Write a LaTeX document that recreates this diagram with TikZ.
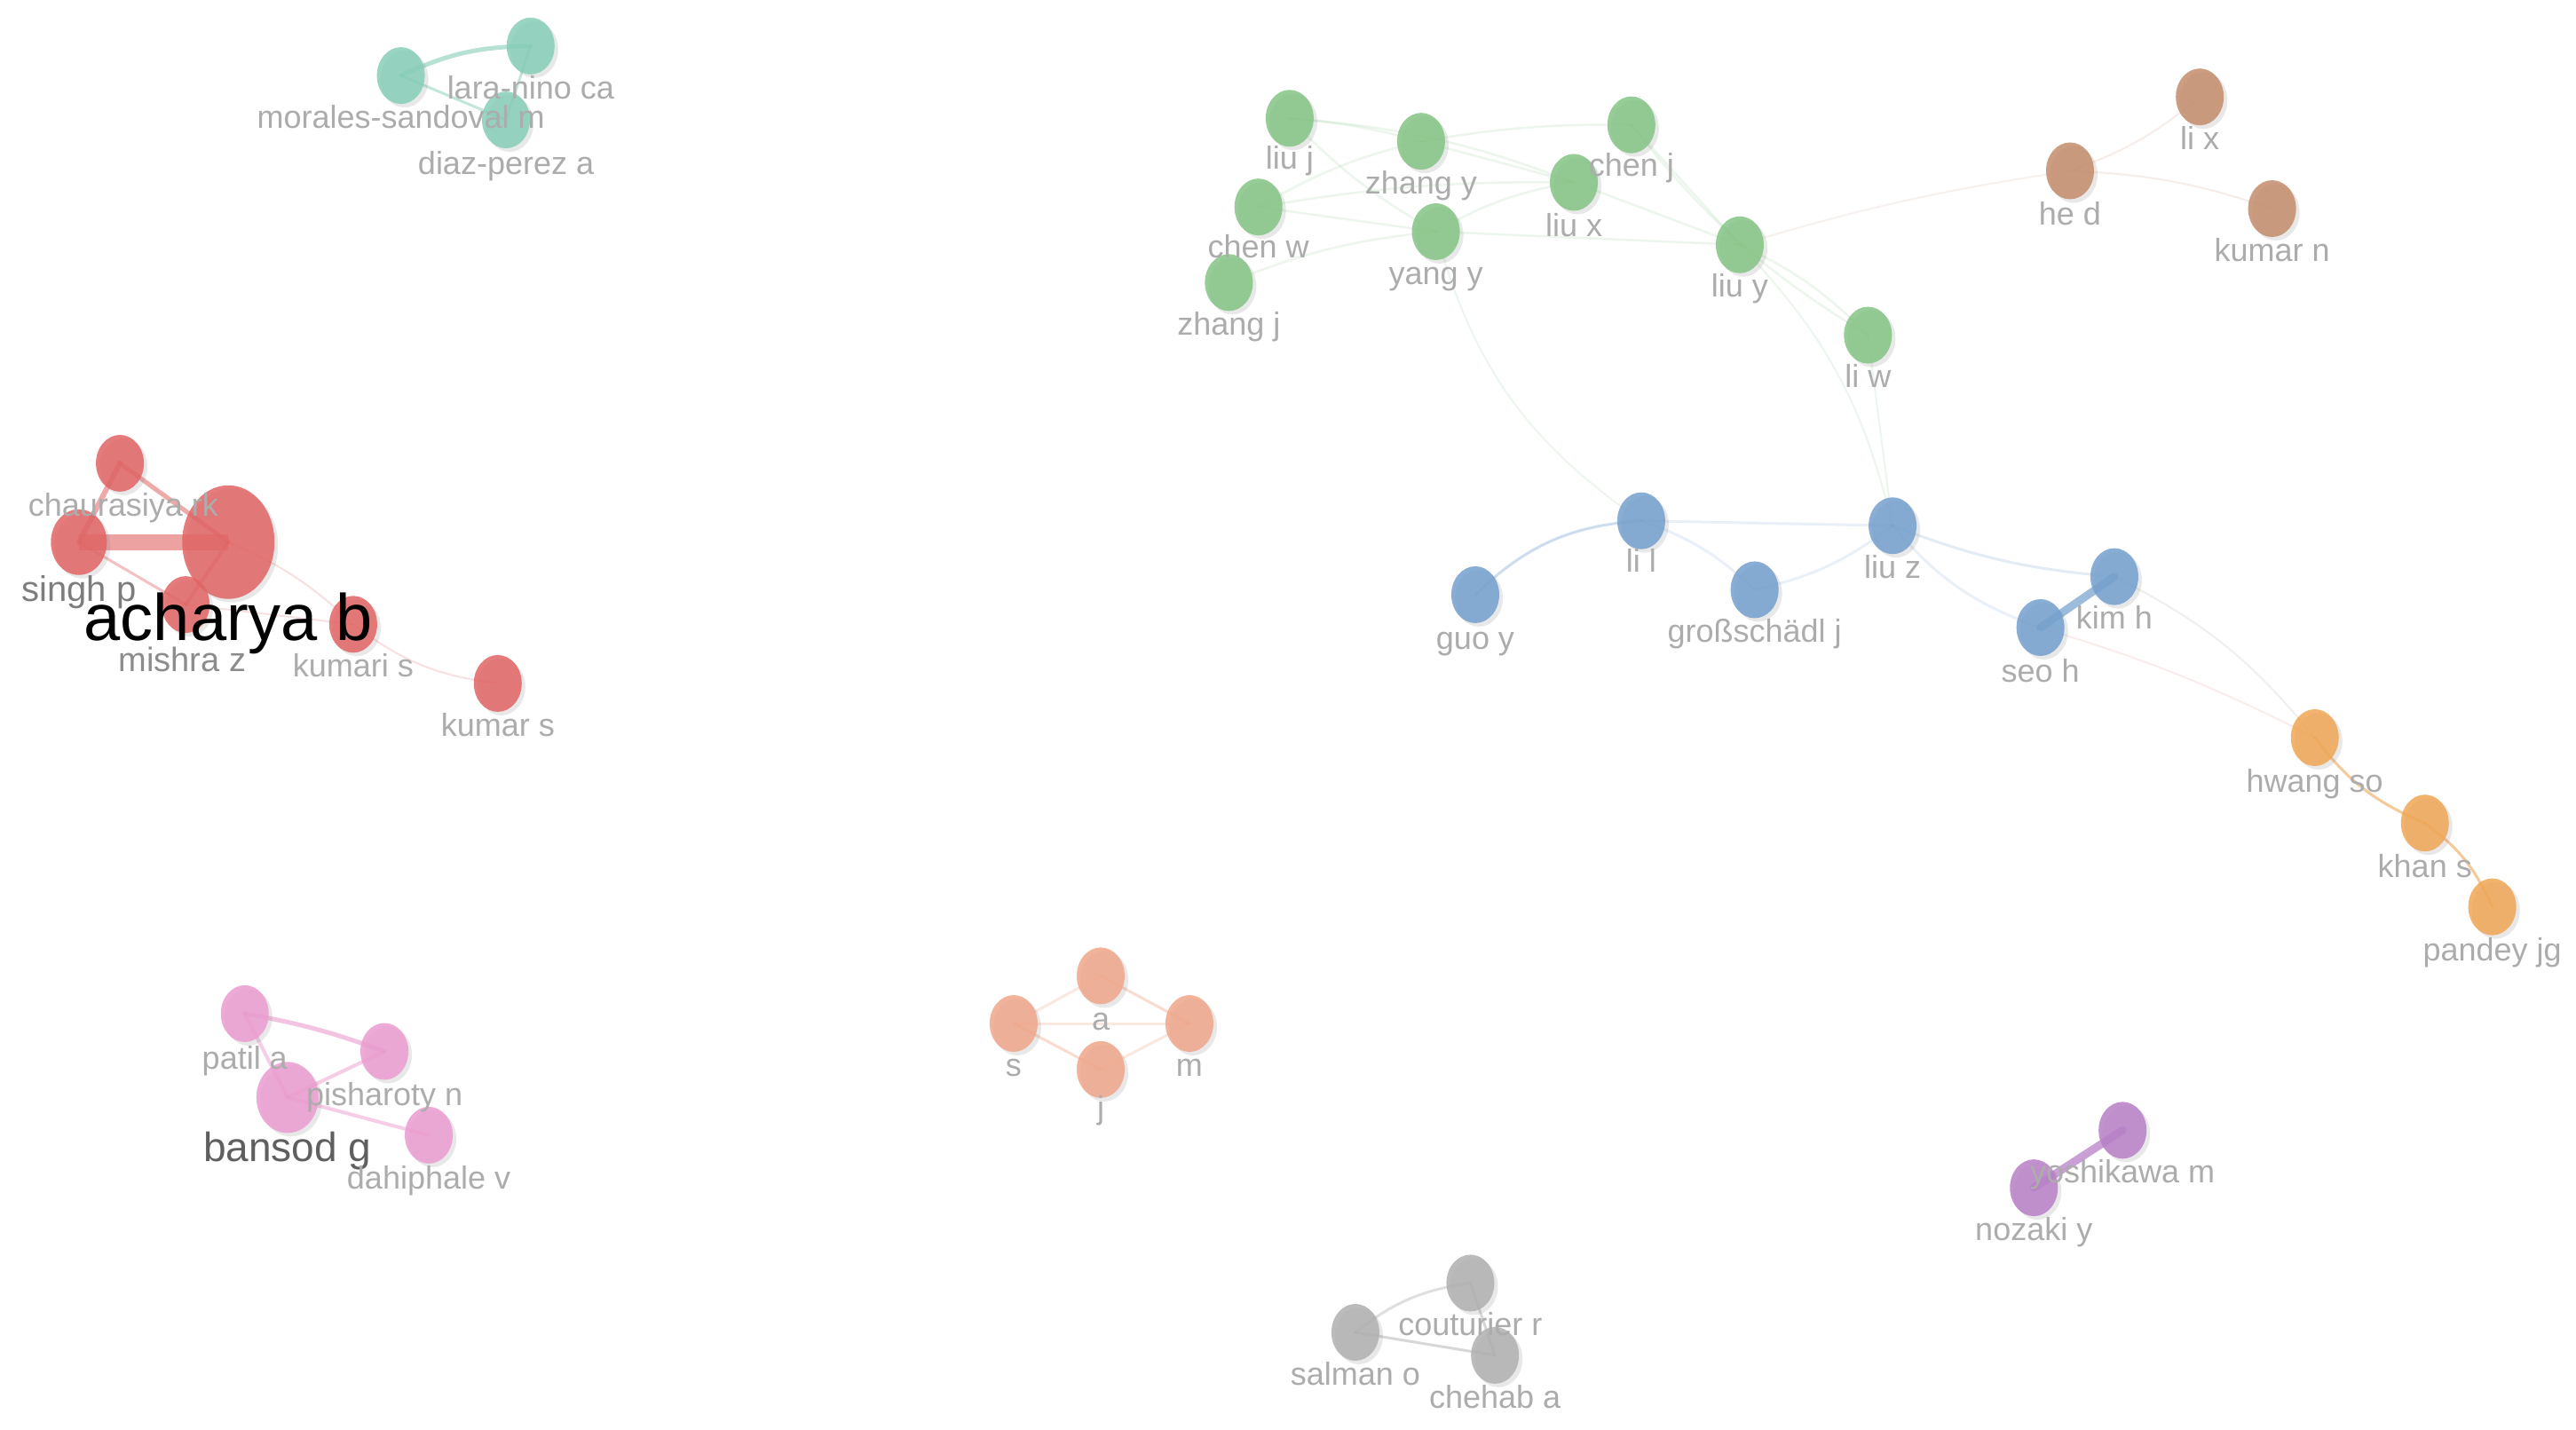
\documentclass[tikz,border=0pt]{standalone}
\usepackage{fontspec}
\setmainfont{Liberation Sans}
\usetikzlibrary{shapes.geometric,shadows,backgrounds}
\pgfdeclarelayer{paper}
\pgfdeclarelayer{background}
\pgfsetlayers{paper,background,main}
\definecolor{cred}{RGB}{226,100,100}
\definecolor{cgreen}{RGB}{132,196,132}
\definecolor{cblue}{RGB}{116,160,206}
\definecolor{cbrown}{RGB}{196,140,108}
\definecolor{corange}{RGB}{240,166,84}
\definecolor{cpink}{RGB}{236,156,208}
\definecolor{csalmon}{RGB}{240,166,138}
\definecolor{cpurple}{RGB}{184,128,200}
\definecolor{cgray}{RGB}{176,176,176}
\definecolor{cteal}{RGB}{134,206,184}
\definecolor{labgray}{RGB}{172,172,172}
\tikzset{
  au/.style={ellipse, inner sep=0pt, minimum width=54pt, minimum height=64pt,
    fill=#1, fill opacity=.85, draw=none,
    drop shadow={shadow xshift=4pt, shadow yshift=-4pt, opacity=.18}},
  lab/.style={font=\fontsize{36}{40}\selectfont, text=labgray, inner sep=0pt, anchor=base},
  ed/.style={draw=#1, line cap=round, line width=3pt, draw opacity=.35},
  ged/.style={draw=cgreen, line cap=round, line width=2.5pt, draw opacity=.15},
}
\begin{document}
\begin{tikzpicture}[x=1.8508pt, y=-1.8508pt]
\begin{pgfonlayer}{paper}
\fill[white] (0,0) rectangle (1568,870);
\end{pgfonlayer}
\useasboundingbox (0,0) rectangle (1568,870);
% ---- nodes
% teal
\node[au=cteal] (mor) at (244,46) {};
\node[au=cteal] (lar) at (323,28) {};
\node[au=cteal] (dia) at (308,73) {};
% red
\node[au=cred] (cha) at (73,282) {};
\node[au=cred, minimum width=63pt, minimum height=74pt] (sin) at (48,330) {};
\node[au=cred, minimum width=104pt, minimum height=128pt] (ach) at (139,330) {};
\node[au=cred] (mis) at (113,368) {};
\node[au=cred] (kma) at (215,380) {};
\node[au=cred] (kms) at (303,416) {};
% green
\node[au=cgreen] (liuj) at (785,72) {};
\node[au=cgreen] (zhy) at (865,86) {};
\node[au=cgreen] (chj) at (993,76) {};
\node[au=cgreen] (liux) at (958,111) {};
\node[au=cgreen] (chw) at (766,126) {};
\node[au=cgreen] (yay) at (874,141) {};
\node[au=cgreen] (zhj) at (748,172) {};
\node[au=cgreen] (liuy) at (1059,149) {};
\node[au=cgreen] (liw) at (1137,204) {};
% brown
\node[au=cbrown] (lix) at (1339,59) {};
\node[au=cbrown] (hed) at (1260,104) {};
\node[au=cbrown] (kun) at (1383,127) {};
% blue
\node[au=cblue] (lil) at (999,317) {};
\node[au=cblue] (liuz) at (1152,320) {};
\node[au=cblue] (guo) at (898,362) {};
\node[au=cblue] (gro) at (1068,359) {};
\node[au=cblue] (kim) at (1287,351) {};
\node[au=cblue] (seo) at (1242,382) {};
% orange
\node[au=corange] (hwa) at (1409,449) {};
\node[au=corange] (kha) at (1476,501) {};
\node[au=corange] (pan) at (1517,552) {};
% pink
\node[au=cpink] (pat) at (149,617) {};
\node[au=cpink] (pis) at (234,640) {};
\node[au=cpink, minimum width=70pt, minimum height=80pt] (ban) at (175,668) {};
\node[au=cpink] (dah) at (261,691) {};
% salmon
\node[au=csalmon] (na) at (670,594) {};
\node[au=csalmon] (ns) at (617,623) {};
\node[au=csalmon] (nm) at (724,623) {};
\node[au=csalmon] (nj) at (670,651) {};
% purple
\node[au=cpurple] (yos) at (1292,688) {};
\node[au=cpurple] (noz) at (1238,723) {};
% gray
\node[au=cgray] (cou) at (895,781) {};
\node[au=cgray] (sal) at (825,811) {};
\node[au=cgray] (che) at (910,825) {};

% ---- labels
\node[lab] (Lmor) at (244,78) {morales-sandoval m};
\node[lab] (Llar) at (323,60) {lara-nino ca};
\node[lab] (Ldia) at (308,106) {diaz-perez a};
\node[lab] (Lcha) at (75,314) {chaurasiya rk};
\node[lab, font=\fontsize{40}{44}\selectfont, text={rgb,255:red,125;green,125;blue,125}] (Lsin) at (48,366) {singh p};
\node[lab, font=\fontsize{38}{42}\selectfont, text={rgb,255:red,140;green,140;blue,140}] (Lmis) at (111,409) {mishra z};
\node[lab] (Lkma) at (215,412) {kumari s};
\node[lab] (Lkms) at (303,448) {kumar s};
\node[lab, font=\fontsize{74}{80}\selectfont, text=black] (Lach) at (139,390) {acharya b};
\node[lab] (Lliuj) at (785,103) {liu j};
\node[lab] (Lzhy) at (865,118) {zhang y};
\node[lab] (Lchj) at (993,107) {chen j};
\node[lab] (Lliux) at (958,144) {liu x};
\node[lab] (Lchw) at (766,157) {chen w};
\node[lab] (Lyay) at (874,173) {yang y};
\node[lab] (Lzhj) at (748,204) {zhang j};
\node[lab] (Lliuy) at (1059,181) {liu y};
\node[lab] (Lliw) at (1137,236) {li w};
\node[lab] (Llix) at (1339,91) {li x};
\node[lab] (Lhed) at (1260,137) {he d};
\node[lab] (Lkun) at (1383,159) {kumar n};
\node[lab] (Llil) at (999,348) {li l};
\node[lab] (Lliuz) at (1152,352) {liu z};
\node[lab] (Lguo) at (898,395) {guo y};
\node[lab] (Lgro) at (1068,391) {großschädl j};
\node[lab] (Lkim) at (1287,383) {kim h};
\node[lab] (Lseo) at (1242,415) {seo h};
\node[lab] (Lhwa) at (1409,482) {hwang so};
\node[lab] (Lkha) at (1476,534) {khan s};
\node[lab] (Lpan) at (1517,585) {pandey jg};
\node[lab] (Lpat) at (149,651) {patil a};
\node[lab] (Lpis) at (234,673) {pisharoty n};
\node[lab, font=\fontsize{46}{50}\selectfont, text={rgb,255:red,95;green,95;blue,95}] (Lban) at (175,707) {bansod g};
\node[lab] (Ldah) at (261,724) {dahiphale v};
\node[lab] (Lna) at (670,627) {a};
\node[lab] (Lns) at (617,655) {s};
\node[lab] (Lnm) at (724,655) {m};
\node[lab] (Lnj) at (670,681) {j};
\node[lab] (Lyos) at (1292,720) {yoshikawa m};
\node[lab] (Lnoz) at (1238,755) {nozaki y};
\node[lab] (Lcou) at (895,813) {couturier r};
\node[lab] (Lsal) at (825,843) {salman o};
\node[lab] (Lche) at (910,857) {chehab a};

% ---- edges
\begin{pgfonlayer}{background}
% teal
\draw[ed=cteal, line width=5pt, draw opacity=.6] (mor.center) to[bend left=12] (lar.center);
\draw[ed=cteal, draw opacity=.5] (mor.center) -- (dia.center);
\draw[ed=cteal, draw opacity=.5] (lar.center) -- (dia.center);
% red
\draw[ed=cred, line width=6pt, draw opacity=.55] (cha.center) -- (sin.center);
\draw[ed=cred, line width=5pt, draw opacity=.55] (cha.center) -- (ach.center);
\draw[ed=cred, line width=18pt, draw opacity=.6, line cap=butt] (sin.center) -- (ach.center);
\draw[ed=cred, line width=3pt, draw opacity=.4] (sin.center) -- (mis.center);
\draw[ed=cred, line width=4pt, draw opacity=.45] (ach.center) -- (mis.center);
\draw[ed=cred, line width=2pt, draw opacity=.2] (ach.center) to[bend left=10] (kma.center);
\draw[ed=cred, line width=2pt, draw opacity=.2] (mis.center) -- (kma.center);
\draw[ed=cred, line width=2pt, draw opacity=.2] (kma.center) to[bend right=15] (kms.center);
% green
\draw[ged] (liuj.center) to[bend left=5] (zhy.center);
\draw[ged] (liuj.center) to[bend left=8] (liux.center);
\draw[ged] (liuj.center) to[bend right=8] (yay.center);
\draw[ged] (chw.center) to[bend left=8] (zhy.center);
\draw[ged] (chw.center) -- (yay.center);
\draw[ged] (chw.center) to[bend left=5] (liux.center);
\draw[ged] (zhj.center) to[bend left=8] (yay.center);
\draw[ged] (zhy.center) to[bend left=5] (chj.center);
\draw[ged] (zhy.center) -- (liux.center);
\draw[ged] (yay.center) to[bend left=10] (liux.center);
\draw[ged] (yay.center) -- (liuy.center);
\draw[ged] (liux.center) -- (liuy.center);
\draw[ged] (chj.center) -- (liuy.center);
\draw[ged] (chj.center) to[bend right=10] (liw.center);
\draw[ged] (liuy.center) to[bend left=10] (liw.center);
% inter-cluster
\draw[ged, line width=2pt] (yay.center) to[bend right=20] (lil.center);
\draw[ged, line width=2pt] (liuy.center) to[bend left=15] (liuz.center);
\draw[ged, line width=2pt] (liw.center) -- (liuz.center);
\draw[ed=cbrown, line width=2pt, draw opacity=.12] (liuy.center) to[bend left=4] (hed.center);
% brown
\draw[ed=cbrown, line width=2pt, draw opacity=.15] (hed.center) to[bend right=10] (lix.center);
\draw[ed=cbrown, line width=2pt, draw opacity=.15] (hed.center) to[bend left=8] (kun.center);
% blue
\draw[ed=cblue, draw opacity=.35] (guo.center) to[bend left=20] (lil.center);
\draw[ed=cblue, draw opacity=.15] (lil.center) -- (liuz.center);
\draw[ed=cblue, draw opacity=.15] (lil.center) to[bend left=12] (gro.center);
\draw[ed=cblue, draw opacity=.15] (gro.center) to[bend right=12] (liuz.center);
\draw[ed=cblue, draw opacity=.2] (liuz.center) to[bend right=8] (kim.center);
\draw[ed=cblue, draw opacity=.15] (liuz.center) to[bend right=15] (seo.center);
\draw[ed=cblue, line width=9pt, draw opacity=.7] (kim.center) -- (seo.center);
\draw[ed=cgray, line width=2pt, draw opacity=.2] (kim.center) to[bend left=12] (hwa.center);
\draw[ed=cred, line width=2pt, draw opacity=.12] (seo.center) to[bend left=5] (hwa.center);
% orange
\draw[ed=corange, draw opacity=.6] (hwa.center) to[bend right=15] (kha.center);
\draw[ed=corange, draw opacity=.6] (kha.center) to[bend left=15] (pan.center);
% pink
\draw[ed=cpink, line width=5pt, draw opacity=.6] (pat.center) to[bend left=5] (pis.center);
\draw[ed=cpink, line width=4pt, draw opacity=.5] (pat.center) -- (ban.center);
\draw[ed=cpink, line width=4pt, draw opacity=.5] (ban.center) -- (pis.center);
\draw[ed=cpink, line width=4pt, draw opacity=.5] (ban.center) -- (dah.center);
% salmon
\draw[ed=csalmon, draw opacity=.25] (ns.center) -- (na.center);
\draw[ed=csalmon, draw opacity=.25] (ns.center) -- (nm.center);
\draw[ed=csalmon, draw opacity=.4] (ns.center) -- (nj.center);
\draw[ed=csalmon, draw opacity=.4] (na.center) -- (nm.center);
\draw[ed=csalmon, draw opacity=.25] (nj.center) -- (nm.center);
% purple
\draw[ed=cpurple, line width=9pt, draw opacity=.75] (noz.center) -- (yos.center);
% gray
\draw[ed=cgray, draw opacity=.4] (sal.center) to[bend left=15] (cou.center);
\draw[ed=cgray, draw opacity=.5] (sal.center) -- (che.center);
\draw[ed=cgray, draw opacity=.5] (cou.center) -- (che.center);
\end{pgfonlayer}
\end{tikzpicture}
\end{document}
